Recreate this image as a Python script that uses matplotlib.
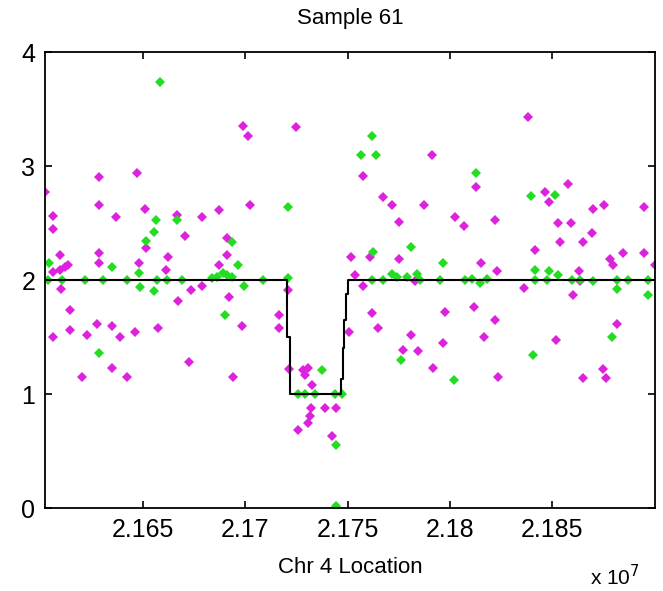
import matplotlib
matplotlib.use("Agg")
import matplotlib.pyplot as plt
from matplotlib.ticker import FormatStrFormatter

# x positions in units of 1e7 bp
mag_x = [2.16021, 2.16062, 2.16062, 2.16062, 2.16094, 2.16094, 2.16098, 2.16119, 2.16135, 2.16143,
         2.16143, 2.16062, 2.16203, 2.16225, 2.16277, 2.16287, 2.16287, 2.16287, 2.16287, 2.16347,
         2.16347, 2.16368, 2.16388, 2.16421, 2.16461, 2.16471, 2.16481, 2.16511, 2.16513, 2.16575,
         2.16613, 2.16624, 2.16665, 2.16673, 2.16706, 2.16727, 2.16733, 2.16790, 2.16790, 2.16872,
         2.16872, 2.16910, 2.16912, 2.16922, 2.16942, 2.16983, 2.16991, 2.17015, 2.17024, 2.17167,
         2.17167, 2.17208, 2.17214, 2.17248, 2.17260, 2.17284, 2.17292, 2.17309, 2.17309, 2.17317,
         2.17322, 2.17325, 2.17390, 2.17423, 2.17443, 2.17509, 2.17516, 2.17537, 2.17575, 2.17575,
         2.17610, 2.17619, 2.17651, 2.17675, 2.17719, 2.17752, 2.17752, 2.17770, 2.17811, 2.17830,
         2.17843, 2.17874, 2.17915, 2.17917, 2.17966, 2.17977, 2.18026, 2.18067, 2.18119, 2.18129,
         2.18152, 2.18169, 2.18222, 2.18222, 2.18230, 2.18235, 2.18365, 2.18384, 2.18417, 2.18466,
         2.18487, 2.18518, 2.18528, 2.18539, 2.18580, 2.18592, 2.18600, 2.18632, 2.18650, 2.18650,
         2.18694, 2.18702, 2.18751, 2.18753, 2.18764, 2.18784, 2.18800, 2.18817, 2.18846, 2.18950,
         2.18950, 2.19001, 2.18637]
mag_y = [2.77, 2.56, 2.45, 2.07, 2.09, 2.22, 1.92, 2.11, 2.13, 1.74,
         1.56, 1.50, 1.15, 1.52, 1.61, 2.90, 2.66, 2.24, 2.15, 1.60,
         1.23, 2.55, 1.50, 1.15, 1.54, 2.94, 2.15, 2.62, 2.28, 1.58,
         2.09, 2.20, 2.57, 1.82, 2.39, 1.28, 1.91, 2.55, 1.95, 2.61,
         2.13, 2.37, 2.22, 1.85, 1.15, 1.60, 3.35, 3.26, 2.66, 1.69,
         1.58, 1.91, 1.22, 3.34, 0.68, 1.21, 1.17, 1.23, 0.75, 0.81,
         0.88, 1.08, 0.88, 0.63, 0.88, 1.54, 2.20, 2.04, 2.91, 1.95,
         2.20, 1.71, 1.58, 2.73, 2.66, 2.51, 2.18, 1.39, 1.52, 1.99,
         1.38, 2.66, 3.10, 1.23, 1.45, 1.72, 2.55, 2.47, 1.76, 2.82,
         2.15, 1.50, 2.53, 1.65, 2.08, 1.15, 1.93, 3.43, 2.26, 2.77,
         2.68, 1.47, 2.50, 2.33, 2.84, 2.50, 1.87, 2.08, 2.33, 1.14,
         2.41, 2.62, 1.22, 2.66, 1.14, 2.18, 2.13, 1.61, 2.24, 2.64,
         2.24, 2.13, 1.99]

grn_x = [2.16036, 2.16042, 2.16103, 2.16217, 2.16287, 2.16303, 2.16347, 2.16423, 2.16481, 2.16486,
         2.16513, 2.16554, 2.16554, 2.16564, 2.16570, 2.16583, 2.16616, 2.16665, 2.16690, 2.16836,
         2.16861, 2.16893, 2.16901, 2.16910, 2.16934, 2.16934, 2.16966, 2.16996, 2.17086, 2.17208,
         2.17208, 2.17260, 2.17292, 2.17341, 2.17374, 2.17439, 2.17443, 2.17443, 2.17472, 2.17566,
         2.17619, 2.17638, 2.17619, 2.17626, 2.17675, 2.17716, 2.17741, 2.17760, 2.17790, 2.17811,
         2.17839, 2.17855, 2.17953, 2.17966, 2.18018, 2.18075, 2.18108, 2.18129, 2.18148, 2.18181,
         2.18398, 2.18406, 2.18417, 2.18417, 2.18474, 2.18487, 2.18512, 2.18528, 2.18597, 2.18637,
         2.18702, 2.18792, 2.18817, 2.18817, 2.18870, 2.18968, 2.18971]
grn_y = [2.00, 2.15, 2.00, 2.00, 1.36, 2.00, 2.11, 2.00, 2.06, 1.94,
         2.34, 2.42, 1.90, 2.53, 2.00, 3.74, 2.00, 2.53, 2.00, 2.02,
         2.03, 2.06, 1.69, 2.04, 2.33, 2.03, 2.13, 1.95, 2.00, 2.64,
         2.02, 1.00, 1.00, 1.00, 1.21, 1.00, 0.55, 0.02, 1.00, 3.10,
         3.26, 3.10, 2.00, 2.25, 2.00, 2.05, 2.03, 1.30, 2.03, 2.29,
         2.05, 2.00, 2.00, 2.15, 1.12, 2.00, 2.01, 2.94, 1.97, 2.01,
         2.74, 1.34, 2.09, 2.00, 2.00, 2.08, 2.75, 2.04, 2.00, 2.00,
         1.99, 1.50, 2.00, 1.92, 2.00, 1.87, 2.00]

# segmentation step line
seg_x = [2.16021, 2.17205, 2.17219, 2.17468, 2.17476, 2.17484, 2.17492, 2.17501, 2.19003]
seg_y = [2.0, 1.5, 1.0, 1.13, 1.4, 1.65, 1.88, 2.0, 2.0]

xticks = [2.165, 2.17, 2.175, 2.18, 2.185]
yticks = [0, 1, 2, 3, 4]

plt.rcParams['font.family'] = ['Liberation Sans', 'DejaVu Sans']

fig = plt.figure(figsize=(6.63, 5.91), dpi=100)
ax = fig.add_axes([45/663, 83/591, 610/663, 456/591])

ax.plot(mag_x, mag_y, linestyle='none', marker='D', markersize=5.5,
        color='#dd22dd', markeredgewidth=0)
ax.plot(grn_x, grn_y, linestyle='none', marker='D', markersize=5.5,
        color='#22dd22', markeredgewidth=0)
ax.plot(seg_x, seg_y, drawstyle='steps-post', color='black', linewidth=1.5)

ax.set_xlim(2.16021, 2.19003)
ax.set_ylim(0, 4)
ax.set_xticks(xticks)
ax.set_yticks(yticks)
ax.xaxis.set_major_formatter(FormatStrFormatter('%g'))
ax.tick_params(direction='in', length=5, width=1.2, top=True, right=True,
               labelsize=18, pad=7)
for s in ax.spines.values():
    s.set_linewidth(1.3)

ax.set_title('Sample 61', fontsize=16, pad=20)
ax.set_xlabel('Chr 4 Location', fontsize=16, labelpad=11)
fig.text(0.965, 0.003, r'x 10$^7$', fontsize=15, ha='right', va='bottom')

fig.savefig('out.png', dpi=100)
